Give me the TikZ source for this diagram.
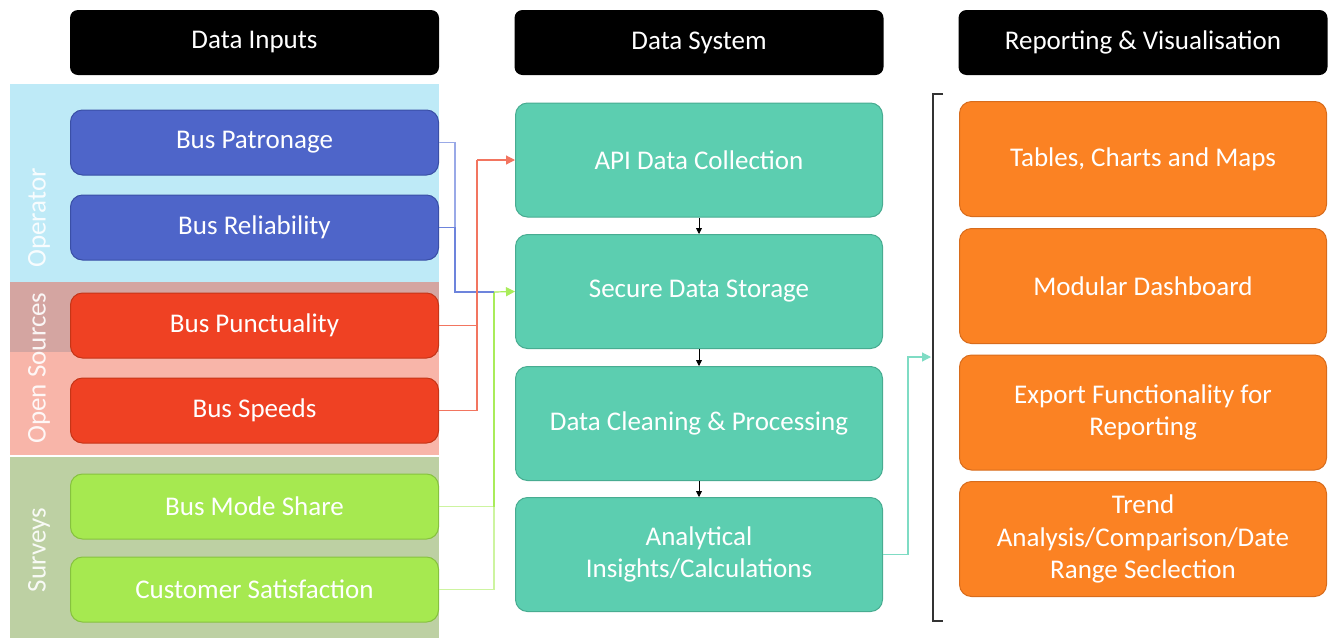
\documentclass[tikz,border=0pt]{standalone}
\usepackage{fontspec}
\setmainfont{Carlito}
\usetikzlibrary{arrows.meta}
\definecolor{opband}{HTML}{BEEAF7}
\definecolor{osdark}{HTML}{D4A5A1}
\definecolor{oslight}{HTML}{F8B5A9}
\definecolor{svband}{HTML}{BDD0A3}
\definecolor{bluef}{HTML}{4E65C9}
\definecolor{blued}{HTML}{3A4FA6}
\definecolor{redf}{HTML}{EF4123}
\definecolor{redd}{HTML}{C53517}
\definecolor{greenf}{HTML}{A6E950}
\definecolor{greend}{HTML}{86C23E}
\definecolor{tealf}{HTML}{5CCEB0}
\definecolor{teald}{HTML}{48AC91}
\definecolor{orangef}{HTML}{FB8223}
\definecolor{oranged}{HTML}{D86C1C}
\definecolor{bluel}{HTML}{6D84DC}
\definecolor{redl}{HTML}{F27560}
\definecolor{greenl}{HTML}{CDF4A0}
\definecolor{greenm}{HTML}{A9EC5A}
\definecolor{teall}{HTML}{7FDCC4}
\tikzset{
  txt/.style={text=white, font=\fontsize{27}{32.5}\selectfont, align=center, inner sep=0pt},
  box/.style={txt, rounded corners=12pt, line width=1pt},
  header/.style={txt, fill=black, rounded corners=8pt, minimum width=369pt, minimum height=65pt},
  inbox/.style={box, minimum width=368pt, minimum height=65pt},
  bluebox/.style={inbox, fill=bluef, draw=blued},
  redbox/.style={inbox, fill=redf, draw=redd},
  greenbox/.style={inbox, fill=greenf, draw=greend},
  sysbox/.style={box, fill=tealf, draw=teald, minimum width=367pt, minimum height=114pt},
  repbox/.style={box, fill=orangef, draw=oranged, minimum width=367pt, minimum height=115pt},
  band/.style={txt, rotate=90, opacity=0.9},
  conn/.style={line width=1.2pt},
  tip/.style={-{Triangle[length=9pt,width=9pt]}},
  smalltip/.style={-{Triangle[length=6pt,width=6pt]}, line width=0.8pt}
}
\begin{document}
\begin{tikzpicture}[x=1pt,y=-1pt]
\useasboundingbox (0,0) rectangle (1335,638);
\fill[white] (0,0) rectangle (1335,638);
% bands
\fill[opband] (10,84) rectangle (439,282);
\fill[osdark] (10,282) rectangle (439,352);
\fill[oslight] (10,352) rectangle (439,455);
\fill[svband] (10,457) rectangle (439,638);
\node[band] (lop) at (39,218) {Operator};
\node[band] (los) at (39,368) {Open Sources};
\node[band] (lsv) at (39,550) {Surveys};
% headers
\node[header] (h1) at (254.5,42.5) {Data Inputs};
\node[header] (h2) at (699,42.5) {Data System};
\node[header] (h3) at (1143,42.5) {Reporting \& Visualisation};
% inputs
\node[bluebox] (pat) at (254.5,142.5) {Bus Patronage};
\node[bluebox] (rel) at (254.5,227.5) {Bus Reliability};
\node[redbox] (pun) at (254.5,325.5) {Bus Punctuality};
\node[redbox] (spd) at (254.5,410.5) {Bus Speeds};
\node[greenbox] (ms) at (254.5,506.5) {Bus Mode Share};
\node[greenbox] (cs) at (254.5,589.5) {Customer Satisfaction};
% system
\node[sysbox] (api) at (699,160) {API Data Collection};
\node[sysbox] (sto) at (699,291.5) {Secure Data Storage};
\node[sysbox] (cln) at (699,423.5) {Data Cleaning \& Processing};
\node[sysbox] (ana) at (699,554.5) {Analytical\\Insights/Calculations};
% reporting
\node[repbox] (tab) at (1143,159) {Tables, Charts and Maps};
\node[repbox] (mod) at (1143,286) {Modular Dashboard};
\node[repbox] (exp) at (1143,412.5) {Export Functionality for\\Reporting};
\node[repbox] (trd) at (1143,539) {Trend\\Analysis/Comparison/Date\\Range Seclection};
% junctions
\coordinate (bj) at (455,292);
\coordinate (gj) at (494,292);
\coordinate (rj) at (477,160);
\coordinate (tj) at (908,357);
\coordinate (bm) at (931,357);
\coordinate (bt) at (943,94);
\coordinate (bb) at (943,621);
% green connectors
\draw[conn, greenl] (ms.east) -| (gj);
\draw[conn, greenl] (cs.east) -| (gj);
\draw[conn, greenm] (gj |- ms.east) -- (gj);
% blue connectors
\draw[conn, bluel!70] (pat.east) -| (bj);
\draw[conn, bluel] (rel.east) -| (bj) -- (gj);
\draw[conn, greenm, tip] (gj) -- (sto.west);
% red connectors
\draw[conn, redl] (pun.east) -| (rj);
\draw[conn, redl] (spd.east) -| (rj);
\draw[conn, tip, redl] (rj) -- (api.west);
% system arrows
\draw[smalltip] (api.south) -- (sto.north);
\draw[smalltip] (sto.south) -- (cln.north);
\draw[smalltip] (cln.south) -- (ana.north);
% teal connector
\draw[conn, teall, tip] (ana.east) -| (tj) -- (bm);
% bracket
\draw[line width=1.5pt, black!80] (bt) -- (933,94) -- (933,621) -- (bb);
\end{tikzpicture}
\end{document}
